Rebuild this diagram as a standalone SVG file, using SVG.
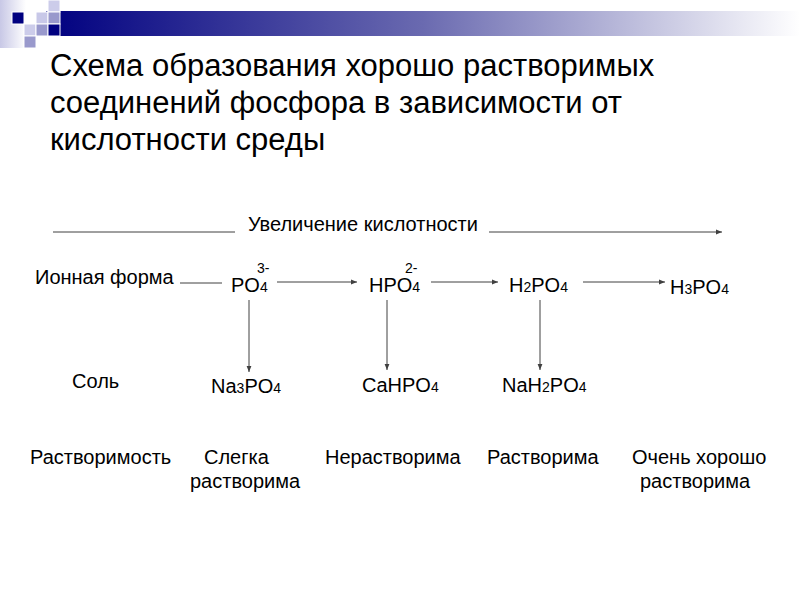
<svg xmlns="http://www.w3.org/2000/svg" width="800" height="600" viewBox="0 0 800 600">
<defs>
<linearGradient id="bar" x1="0" y1="0" x2="1" y2="0">
<stop offset="0" stop-color="#000080"/>
<stop offset="0.5" stop-color="#6a6ab0"/>
<stop offset="1" stop-color="#ffffff"/>
</linearGradient>
<linearGradient id="side" x1="0" y1="0" x2="1" y2="0">
<stop offset="0" stop-color="#c8c8e6"/>
<stop offset="1" stop-color="#ffffff"/>
</linearGradient>
<marker id="ah" viewBox="0 0 10 10" refX="10" refY="5" markerWidth="6" markerHeight="6" orient="auto" markerUnits="userSpaceOnUse">
<path d="M0,1 L10,5 L0,9 z" fill="#404040"/>
</marker>
<style>
text{font-family:"Liberation Sans",Arial,sans-serif;fill:#000}
.title{font-size:31px}
.lbl{font-size:20px}
.sm{font-size:14px}
.conn line{stroke:#404040;stroke-width:1}
.arr{marker-end:url(#ah)}
.sq{stroke:#fff;stroke-width:1}
</style>
</defs>
<g id="decor">
<rect x="0" y="0" width="26" height="48" fill="url(#side)"/>
<rect x="46" y="11" width="754" height="25" fill="url(#bar)"/>
<rect class="sq" x="12" y="12" width="12" height="12" fill="#000080"/>
<rect class="sq" x="48" y="0" width="12" height="12" fill="#ccccea"/>
<rect class="sq" x="36" y="12" width="12" height="12" fill="#c8c8e8"/>
<rect class="sq" x="48" y="12" width="12" height="12" fill="#9999cc"/>
<rect class="sq" x="24" y="24" width="12" height="12" fill="#ccccea"/>
<rect class="sq" x="36" y="24" width="12" height="12" fill="#9999cc"/>
<rect class="sq" x="48" y="24" width="12" height="12" fill="#000080"/>
<rect class="sq" x="24" y="36" width="12" height="12" fill="#9999cc"/>
</g>
<g id="title">
<text class="title" x="50" y="76">Схема образования хорошо растворимых</text>
<text class="title" x="50" y="113">соединений фосфора в зависимости от</text>
<text class="title" x="50" y="150">кислотности среды</text>
</g>
<g class="conn" id="connectors">
<line x1="53" y1="232" x2="235" y2="232"/>
<line class="arr" x1="489" y1="232" x2="722" y2="232"/>
<line x1="180" y1="283" x2="222" y2="283"/>
<line class="arr" x1="277" y1="282" x2="357" y2="282"/>
<line class="arr" x1="431" y1="282" x2="498" y2="282"/>
<line class="arr" x1="583" y1="282" x2="665" y2="282"/>
<line class="arr" x1="249" y1="300" x2="249" y2="372"/>
<line class="arr" x1="387" y1="300" x2="387" y2="370"/>
<line class="arr" x1="540" y1="300" x2="540" y2="370"/>
</g>
<g id="axis"><text class="lbl" x="248" y="231">Увеличение кислотности</text></g>
<g id="ion-label"><text class="lbl" x="35" y="284">Ионная форма</text></g>
<g id="po4"><text class="lbl" x="231" y="292">PO<tspan class="sm">4</tspan></text><text class="sm" x="257" y="273">3-</text></g>
<g id="hpo4"><text class="lbl" x="369" y="292">HPO<tspan class="sm">4</tspan></text><text class="sm" x="405" y="273">2-</text></g>
<g id="h2po4"><text class="lbl" x="509" y="292">H<tspan class="sm">2</tspan>PO<tspan class="sm">4</tspan></text></g>
<g id="h3po4"><text class="lbl" x="670" y="294">H<tspan class="sm">3</tspan>PO<tspan class="sm">4</tspan></text></g>
<g id="salt-label"><text class="lbl" x="72" y="388">Соль</text></g>
<g id="na3po4"><text class="lbl" x="211" y="393">Na<tspan class="sm">3</tspan>PO<tspan class="sm">4</tspan></text></g>
<g id="cahpo4"><text class="lbl" x="362" y="392">CaHPO<tspan class="sm">4</tspan></text></g>
<g id="nah2po4"><text class="lbl" x="502" y="392">NaH<tspan class="sm">2</tspan>PO<tspan class="sm">4</tspan></text></g>
<g id="sol-label"><text class="lbl" x="30" y="464">Растворимость</text></g>
<g id="sol1"><text class="lbl" x="204" y="464">Слегка</text><text class="lbl" x="190" y="488">растворима</text></g>
<g id="sol2"><text class="lbl" x="325" y="464">Нерастворима</text></g>
<g id="sol3"><text class="lbl" x="487" y="464">Растворима</text></g>
<g id="sol4"><text class="lbl" x="632" y="464">Очень хорошо</text><text class="lbl" x="640" y="488">растворима</text></g>
</svg>
